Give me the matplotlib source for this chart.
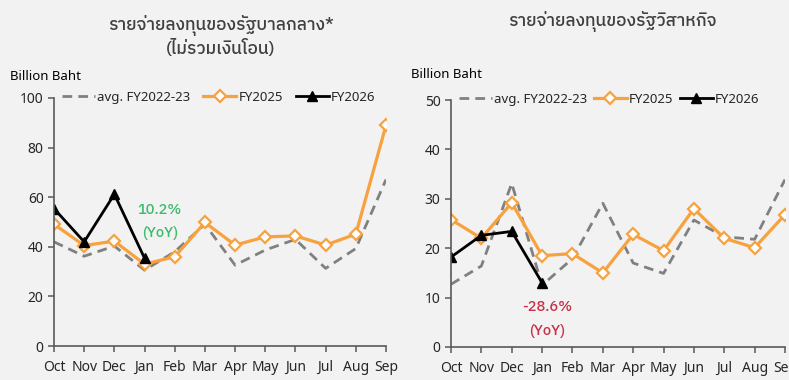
import matplotlib
matplotlib.use('Agg')
import matplotlib.pyplot as plt

plt.rcParams['font.family'] = ['Noto Sans', 'Noto Sans Thai Looped', 'DejaVu Sans']
HEAD = ['IBM Plex Sans Thai', 'Noto Sans Thai Looped', 'DejaVu Sans']

months = ['Oct', 'Nov', 'Dec', 'Jan', 'Feb', 'Mar', 'Apr', 'May', 'Jun', 'Jul', 'Aug', 'Sep']

# central government capital spending (excl. transfers), billion baht
gov_avg = [42.0, 36.2, 40.3, 30.6, 38.0, 49.1, 32.6, 38.7, 43.0, 31.3, 39.3, 67.1]
gov_fy25 = [49.1, 40.5, 42.3, 33.0, 36.0, 49.8, 40.7, 44.0, 44.4, 40.7, 45.1, 89.0]
gov_fy26 = [55.4, 42.0, 61.2, 35.4]

# state enterprise capital spending, billion baht
soe_avg = [12.7, 16.4, 33.1, 12.5, 17.9, 29.1, 17.0, 14.9, 25.7, 22.3, 21.8, 33.9]
soe_fy25 = [25.8, 22.0, 29.2, 18.5, 18.9, 15.0, 22.8, 19.5, 28.0, 22.0, 20.1, 26.8]
soe_fy26 = [18.2, 22.6, 23.4, 13.0]

BG = '#f2f2f2'
ORANGE = '#f7a23e'
GREY = '#808080'
TXT = '#262626'

fig = plt.figure(figsize=(7.89, 3.80), dpi=100)
fig.patch.set_facecolor(BG)

W, H = 789, 380
ax1 = fig.add_axes([54 / W, 34 / H, 332 / W, 248 / H])
ax2 = fig.add_axes([451 / W, 33 / H, 334 / W, 247 / H])


def draw(ax, avg, fy25, fy26, ymax, step, colsp):
    x = range(len(months))
    ax.set_facecolor(BG)
    ax.plot(x, avg, color=GREY, lw=2, ls=(0, (3.5, 2.2)), label='avg. FY2022-23')
    ax.plot(x, fy25, color=ORANGE, lw=2.3, marker='D', ms=6, mfc='white',
            mec=ORANGE, mew=1.6, label='FY2025')
    ax.plot(range(len(fy26)), fy26, color='black', lw=2, marker='^', ms=7,
            label='FY2026')
    ax.set_xlim(0, 11)
    ax.set_ylim(0, ymax)
    ax.set_yticks(range(0, ymax + 1, step))
    ax.set_xticks(x)
    ax.set_xticklabels(months)
    for s in ['top', 'right']:
        ax.spines[s].set_visible(False)
    for s in ['left', 'bottom']:
        ax.spines[s].set_color('#595959')
        ax.spines[s].set_linewidth(1.2)
    ax.tick_params(axis='both', color='#595959', labelcolor=TXT, labelsize=10,
                   length=4, width=1.1)
    ax.tick_params(axis='x', pad=6)
    leg = ax.legend(loc='upper left', ncol=3, frameon=False, fontsize=9.5,
                    bbox_to_anchor=(0.0, 1.06), handlelength=2.5,
                    handletextpad=0.15, columnspacing=colsp, borderaxespad=0.2)
    for t in leg.get_texts():
        t.set_color(TXT)


draw(ax1, gov_avg, gov_fy25, gov_fy26, 100, 20, 1.0)
draw(ax2, soe_avg, soe_fy25, soe_fy26, 50, 10, 0.5)

# YoY notes next to the latest month
note = dict(ha='center', va='center', fontsize=10.5, family=HEAD, fontweight='medium')
ax1.text(3.5, 0.55, '10.2%', transform=ax1.get_xaxis_transform(), color='#3dbb6c', **note)
ax1.text(3.5, 0.456, '(YoY)', transform=ax1.get_xaxis_transform(), color='#3dbb6c', **note)
ax2.text(3.17, 0.162, '-28.6%', transform=ax2.get_xaxis_transform(), color='#c8304a', **note)
ax2.text(3.17, 0.064, '(YoY)', transform=ax2.get_xaxis_transform(), color='#c8304a', **note)

title = dict(ha='center', va='center', fontsize=12.5, color='#404040', family=HEAD,
             fontweight='medium')
fig.text(221 / W, 1 - 25 / H, 'รายจ่ายลงทุนของรัฐบาลกลาง*', **title)
fig.text(221 / W, 1 - 48 / H, '(ไม่รวมเงินโอน)', **title)
fig.text(612 / W, 1 - 22 / H, 'รายจ่ายลงทุนของรัฐวิสาหกิจ', **title)
fig.text(10 / W, 1 - 77 / H, 'Billion Baht', ha='left', va='center', fontsize=9.5,
         color='black')
fig.text(411 / W, 1 - 75 / H, 'Billion Baht', ha='left', va='center', fontsize=9.5,
         color='black')

fig.savefig('out.png', dpi=100, facecolor=BG)
